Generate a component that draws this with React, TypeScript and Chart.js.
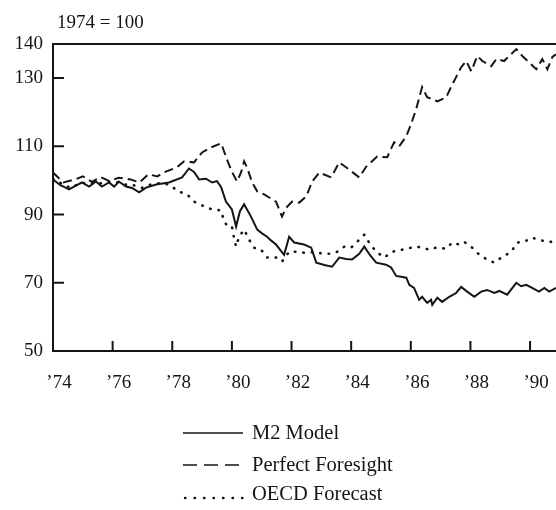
import React, { useEffect, useRef } from "react";
import { Chart, registerables } from "chart.js";

Chart.register(...registerables);

const xTickYears = [1974, 1976, 1978, 1980, 1982, 1984, 1986, 1988, 1990];
const yTickValues = [50, 70, 90, 110, 130, 140];

const m2Years = [1974.0, 1974.25, 1974.54, 1974.75, 1974.97, 1975.21, 1975.44, 1975.64, 1975.88, 1976.05, 1976.21, 1976.45, 1976.65, 1976.89, 1977.12, 1977.46, 1977.89, 1978.33, 1978.56, 1978.73, 1978.9, 1979.13, 1979.34, 1979.5, 1979.64, 1979.8, 1980.0, 1980.14, 1980.27, 1980.41, 1980.64, 1980.85, 1981.01, 1981.18, 1981.3, 1981.48, 1981.75, 1981.92, 1982.09, 1982.42, 1982.66, 1982.83, 1983.1, 1983.36, 1983.6, 1983.83, 1984.03, 1984.27, 1984.44, 1984.64, 1984.84, 1985.17, 1985.34, 1985.51, 1985.85, 1985.95, 1986.11, 1986.28, 1986.38, 1986.55, 1986.68, 1986.72, 1986.89, 1987.05, 1987.29, 1987.52, 1987.69, 1987.89, 1988.13, 1988.36, 1988.56, 1988.8, 1988.97, 1989.23, 1989.54, 1989.7, 1989.87, 1990.07, 1990.3, 1990.48, 1990.64, 1990.87];
const m2Values = [100.3, 98.6, 97.4, 98.4, 99.4, 98.2, 99.7, 98.2, 99.4, 98.2, 99.7, 98.2, 97.8, 96.5, 97.9, 98.8, 99.4, 100.9, 103.5, 102.5, 100.3, 100.5, 99.4, 99.8, 98.0, 93.8, 91.5, 86.5, 91.0, 93.0, 89.4, 85.6, 84.5, 83.5, 82.5, 81.2, 78.2, 83.5, 81.8, 81.2, 80.3, 75.9, 75.2, 74.7, 77.4, 77.0, 76.8, 78.5, 80.6, 78.0, 75.9, 75.3, 74.5, 72.0, 71.5, 69.4, 68.5, 65.0, 65.9, 64.1, 65.0, 63.5, 65.6, 64.4, 65.9, 67.0, 68.8, 67.4, 65.9, 67.4, 67.9, 67.0, 67.6, 66.5, 70.0, 69.0, 69.4, 68.5, 67.4, 68.5, 67.4, 68.5];

const pfYears = [1974.0, 1974.35, 1974.75, 1975.0, 1975.3, 1975.6, 1975.9, 1976.2, 1976.6, 1976.9, 1977.2, 1977.5, 1977.7, 1978.15, 1978.4, 1978.73, 1979.0, 1979.3, 1979.64, 1979.84, 1980.0, 1980.17, 1980.31, 1980.41, 1980.51, 1980.68, 1980.85, 1981.08, 1981.25, 1981.48, 1981.68, 1981.82, 1982.02, 1982.26, 1982.49, 1982.59, 1982.69, 1982.93, 1983.33, 1983.6, 1983.93, 1984.27, 1984.5, 1984.87, 1985.21, 1985.44, 1985.61, 1985.85, 1986.01, 1986.18, 1986.38, 1986.55, 1986.89, 1987.19, 1987.36, 1987.52, 1987.69, 1987.86, 1988.03, 1988.23, 1988.4, 1988.7, 1988.87, 1989.13, 1989.3, 1989.54, 1989.74, 1990.04, 1990.21, 1990.41, 1990.58, 1990.75, 1990.87];
const pfValues = [102.3, 99.4, 100.3, 101.2, 99.6, 101.0, 99.8, 100.8, 100.3, 99.4, 101.8, 101.2, 102.3, 103.8, 105.6, 105.3, 108.2, 109.7, 110.9, 106.0, 102.6, 99.7, 102.4, 105.6, 103.8, 99.4, 96.8, 95.9, 95.0, 93.8, 89.4, 92.0, 93.8, 93.5, 95.3, 97.4, 99.7, 102.3, 100.9, 105.3, 103.2, 100.9, 104.0, 107.0, 106.8, 111.2, 110.0, 113.0, 116.5, 120.9, 127.4, 124.4, 123.2, 124.4, 127.6, 130.3, 133.2, 135.0, 132.0, 136.5, 135.0, 133.5, 135.6, 135.0, 136.5, 138.5, 136.5, 134.0, 132.6, 135.6, 132.6, 136.2, 137.0];

const oecdYears = [1974.0, 1974.3, 1974.6, 1974.9, 1975.2, 1975.5, 1975.8, 1976.1, 1976.4, 1976.7, 1977.0, 1977.3, 1977.6, 1977.9, 1978.2, 1978.5, 1978.73, 1979.07, 1979.34, 1979.64, 1979.74, 1979.87, 1980.0, 1980.07, 1980.14, 1980.24, 1980.41, 1980.58, 1980.74, 1980.98, 1981.18, 1981.48, 1981.68, 1981.92, 1982.15, 1982.42, 1982.76, 1983.09, 1983.33, 1983.53, 1983.77, 1984.0, 1984.27, 1984.44, 1984.6, 1984.84, 1985.11, 1985.38, 1985.71, 1986.18, 1986.38, 1986.62, 1986.85, 1987.19, 1987.39, 1987.62, 1987.79, 1988.06, 1988.3, 1988.56, 1988.8, 1989.07, 1989.37, 1989.57, 1989.8, 1990.07, 1990.3, 1990.58, 1990.87];
const oecdValues = [100.5, 99.0, 97.8, 99.2, 99.3, 99.0, 99.5, 99.6, 98.8, 98.6, 97.8, 98.9, 99.2, 98.8, 96.8, 95.9, 93.8, 92.4, 91.5, 91.2, 87.9, 86.5, 86.5, 83.2, 80.6, 83.5, 85.6, 82.6, 80.3, 79.7, 77.4, 77.4, 76.2, 79.1, 79.1, 78.8, 79.0, 78.5, 78.5, 79.1, 80.6, 80.3, 82.6, 84.1, 81.8, 79.1, 77.4, 79.1, 79.7, 80.6, 80.3, 79.7, 80.3, 80.0, 81.8, 81.2, 82.0, 80.3, 78.2, 76.8, 75.9, 77.6, 79.1, 81.8, 82.0, 83.2, 82.6, 82.0, 82.0];

const INK = "#151515";
const FONT = "'Liberation Serif', 'DejaVu Serif', serif";

const frame = {
  id: "frame",
  afterDraw(chart: any) {
    const { ctx, chartArea } = chart;
    const { left, right, top, bottom } = chartArea;
    const xs = chart.scales.x;
    const ys = chart.scales.y;
    ctx.save();
    ctx.strokeStyle = INK;
    ctx.lineWidth = 2;
    ctx.beginPath();
    ctx.moveTo(left - 1, top);
    ctx.lineTo(right, top);
    xs.ticks.forEach((t: any) => {
      if (t.value === xs.min) return;
      const px = xs.getPixelForValue(t.value);
      ctx.moveTo(px, bottom);
      ctx.lineTo(px, bottom - 10);
    });
    ys.ticks.forEach((t: any) => {
      if (t.value === ys.min || t.value === ys.max) return;
      const py = ys.getPixelForValue(t.value);
      ctx.moveTo(left, py);
      ctx.lineTo(left + 11, py);
    });
    ctx.stroke();
    ctx.restore();
  },
};

function toPoints(xs: number[], ys: number[]) {
  return xs.map((x, i) => ({ x, y: ys[i] }));
}

export default function App() {
  const ref = useRef<HTMLCanvasElement | null>(null);

  useEffect(() => {
    if (!ref.current) return;
    const chart = new Chart(ref.current, {
      type: "line",
      data: {
        datasets: [
          {
            label: "M2 Model",
            data: toPoints(m2Years, m2Values),
            borderColor: INK,
            borderWidth: 2,
            pointRadius: 0,
            tension: 0,
          },
          {
            label: "Perfect Foresight",
            data: toPoints(pfYears, pfValues),
            borderColor: INK,
            borderWidth: 2,
            borderDash: [9, 5],
            pointRadius: 0,
            tension: 0,
          },
          {
            label: "OECD Forecast",
            data: toPoints(oecdYears, oecdValues),
            borderColor: INK,
            borderWidth: 2.6,
            borderDash: [0.5, 8],
            borderCapStyle: "round",
            pointRadius: 0,
            tension: 0,
          },
        ],
      },
      options: {
        responsive: false,
        animation: false,
        layout: { padding: { top: 44, left: 0, right: 0, bottom: 0 } },
        plugins: { legend: { display: false }, tooltip: { enabled: false }, title: { display: false } },
        scales: {
          x: {
            type: "linear",
            min: 1974,
            max: 1990.87,
            afterBuildTicks: (scale: any) => {
              scale.ticks = xTickYears.map((v) => ({ value: v }));
            },
            afterFit: (scale: any) => {
              scale.height = 159;
              scale.paddingLeft = 0;
              scale.paddingRight = 0;
            },
            grid: { display: true, drawOnChartArea: false, drawTicks: false },
            border: { display: true, color: INK, width: 2 },
            ticks: {
              autoSkip: false,
              maxRotation: 0,
              padding: 21,
              labelOffset: 6,
              color: INK,
              font: { family: FONT, size: 19 },
              callback: (v: any) => "\u2019" + String(v).slice(2),
            },
          },
          y: {
            type: "linear",
            min: 50,
            max: 140,
            afterBuildTicks: (scale: any) => {
              scale.ticks = yTickValues.map((v) => ({ value: v }));
            },
            afterFit: (scale: any) => {
              scale.width = 53;
              scale.paddingTop = 0;
              scale.paddingBottom = 0;
            },
            grid: { display: true, drawOnChartArea: false, drawTicks: false },
            border: { display: true, color: INK, width: 2 },
            ticks: {
              autoSkip: false,
              padding: 10,
              color: INK,
              font: { family: FONT, size: 19 },
            },
          },
        },
      },
      plugins: [frame],
    } as any);
    return () => chart.destroy();
  }, []);

  const textStyle: React.CSSProperties = {
    fontFamily: FONT,
    fontSize: 20.5,
    color: INK,
    lineHeight: "24px",
    whiteSpace: "nowrap",
  };

  const rows = [
    { label: "M2 Model", top: 420, dash: "" },
    { label: "Perfect Foresight", top: 452, dash: "14 7" },
    { label: "OECD Forecast", top: 481, dash: "0.5 9" },
  ];

  return (
    <div style={{ position: "absolute", left: 0, top: 0, width: 556, height: 510, background: "#fff", overflow: "hidden" }}>
      <canvas ref={ref} width={556} height={510} style={{ position: "absolute", left: 0, top: 0 }} />
      <div style={{ position: "absolute", left: 57, top: 10, fontFamily: FONT, fontSize: 19, color: INK, lineHeight: "24px" }}>
        1974 = 100
      </div>
      {rows.map((r, i) => (
        <div key={i} style={{ position: "absolute", left: 182, top: r.top, height: 24, display: "flex", alignItems: "center" }}>
          <svg width={62} height={24} style={{ display: "block" }}>
            <line
              x1={i === 2 ? 3 : 1}
              y1={i === 2 ? 17 : 13}
              x2={61}
              y2={i === 2 ? 17 : 13}
              stroke={INK}
              strokeWidth={i === 2 ? 2.4 : 1.6}
              strokeDasharray={r.dash || undefined}
              strokeLinecap={i === 2 ? "round" : "butt"}
            />
          </svg>
          <span style={{ ...textStyle, marginLeft: 8 }}>{r.label}</span>
        </div>
      ))}
    </div>
  );
}
